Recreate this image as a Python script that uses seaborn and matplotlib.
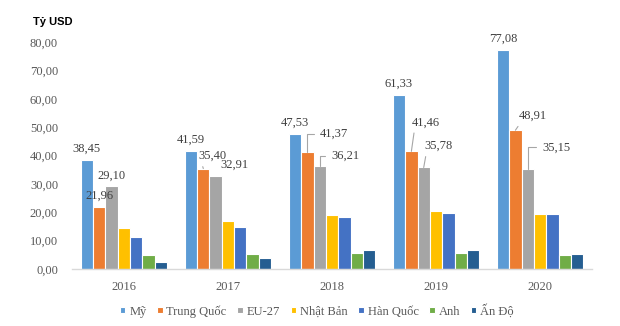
import matplotlib
matplotlib.use("Agg")
import matplotlib.pyplot as plt
import seaborn as sns
import pandas as pd

years = ["2016", "2017", "2018", "2019", "2020"]
series = ["Mỹ", "Trung Quốc", "EU-27", "Nhật Bản", "Hàn Quốc", "Anh", "Ấn Độ"]
my = [38.45, 41.59, 47.53, 61.33, 77.08]
trung_quoc = [21.96, 35.40, 41.37, 41.46, 48.91]
eu27 = [29.10, 32.91, 36.21, 35.78, 35.15]
nhat_ban = [14.6, 16.9, 19.1, 20.5, 19.4]
han_quoc = [11.4, 14.8, 18.4, 19.9, 19.3]
anh = [4.8, 5.3, 5.7, 5.8, 5.0]
an_do = [2.6, 3.7, 6.6, 6.7, 5.3]
values = [my, trung_quoc, eu27, nhat_ban, han_quoc, anh, an_do]
yticks = [0, 10, 20, 30, 40, 50, 60, 70, 80]

colors = ["#5B9BD5", "#ED7D31", "#A5A5A5", "#FFC000", "#4472C4", "#70AD47", "#255E91"]

rows = []
for s, vals in zip(series, values):
    for y, v in zip(years, vals):
        rows.append({"Năm": y, "Quốc gia": s, "Giá trị": v})
df = pd.DataFrame(rows)

sns.set_theme(style="white")
plt.rcParams["font.family"] = ["Liberation Serif", "DejaVu Serif"]

fig = plt.figure(figsize=(6.2, 3.26), dpi=100)
ax = fig.add_axes([0.116, 0.175, 0.839, 0.696])

sns.barplot(data=df, x="Năm", y="Giá trị", hue="Quốc gia", order=years,
            hue_order=series, palette=colors, width=0.83, ax=ax,
            edgecolor="white", linewidth=0.8, saturation=1)

ax.set_ylim(0, 80)
ax.set_xlim(-0.5, 4.5)
ax.set_yticks(yticks)
ax.set_yticklabels([f"{v:.2f}".replace(".", ",") for v in yticks])
ax.set_xlabel("")
ax.set_ylabel("")
ax.tick_params(axis="y", length=0, pad=10, labelsize=9, labelcolor="#595959")
ax.tick_params(axis="x", length=0, pad=9, labelsize=9, labelcolor="#595959")
for side in ["left", "right", "top"]:
    ax.spines[side].set_visible(False)
ax.spines["bottom"].set_color("#D9D9D9")
ax.spines["bottom"].set_linewidth(1.0)

# data labels (first three series), offsets in pixels: (dx, dy, leader style)
px = 0.72
offsets = {
    0: [(0, 11, None), (0, 11, None), (0, 11, None), (0, 11, None), (0, 12, None)],
    1: [(0, 10.5, None), (9, 12.5, "slant"), (26.7, 17.6, "elbow"), (14.7, 29, "slant"), (17.7, 14.2, "slant")],
    2: [(0, 10.5, None), (19, 10.6, None), (25.3, 10.6, "elbow"), (14.3, 21.5, "slant"), (28.3, 22, "elbow")],
}
for i in range(3):
    cont = ax.containers[i]
    for j, bar in enumerate(cont):
        v = values[i][j]
        xc = bar.get_x() + bar.get_width() / 2
        dx, dy, style = offsets[i][j]
        label = f"{v:.2f}".replace(".", ",")
        kw = {}
        if style == "elbow":
            kw["arrowprops"] = dict(arrowstyle="-", color="#A6A6A6", lw=0.8,
                                    connectionstyle="angle,angleA=0,angleB=90,rad=0",
                                    relpos=(0, 0.5), shrinkA=2, shrinkB=0)
        elif style == "slant":
            kw["arrowprops"] = dict(arrowstyle="-", color="#A6A6A6", lw=0.8,
                                    relpos=(0.1, 0.1), shrinkA=1, shrinkB=0)
        ax.annotate(label, xy=(xc, bar.get_height()), xytext=(dx * px, dy * px),
                    textcoords="offset points", ha="center", va="center",
                    fontsize=9, color="#404040", **kw)

handles, labels = ax.get_legend_handles_labels()
ax.get_legend().remove()
fig.legend(handles, labels, loc="center", bbox_to_anchor=(0.511, 0.047), ncol=7,
           frameon=False, fontsize=9, handlelength=0.45, handleheight=0.45,
           handletextpad=0.3, columnspacing=0.85, labelcolor="#595959")

fig.text(33 / 620, 1 - 22 / 326, "Tỷ USD", fontsize=8, fontweight="bold",
         family=["Liberation Sans", "DejaVu Sans"], color="#000000", va="center")

fig.savefig("out.png", dpi=100, facecolor="white")
